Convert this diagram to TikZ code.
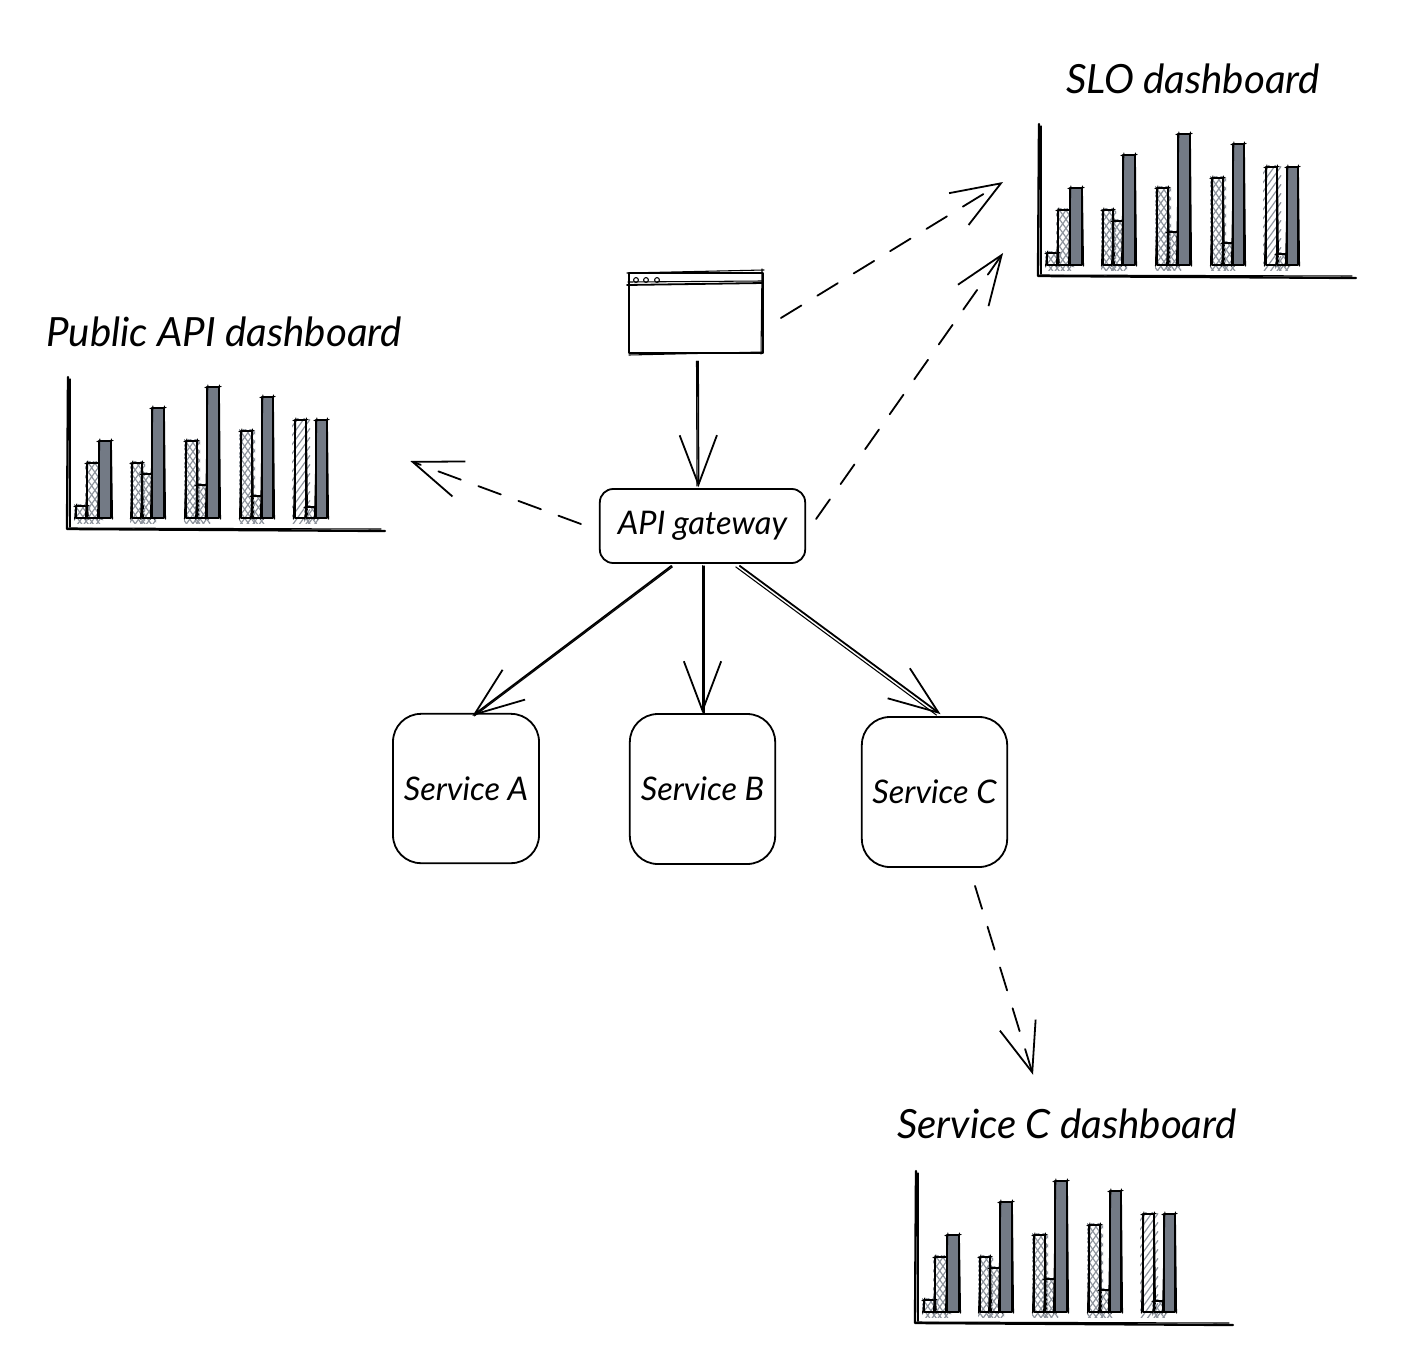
\documentclass[tikz,border=0pt]{standalone}
\usepackage{fontspec}
\setmainfont{Lato}
\usetikzlibrary{arrows.meta,calc}
\definecolor{barfill}{HTML}{737A85}
\definecolor{hatchc}{HTML}{8E949D}
\tikzset{
  ink/.style={draw=black,line width=1.35pt,line cap=round,line join=round},
  bar ink/.style={draw=black,line width=1.75pt,line cap=round,line join=round},
  thin ink/.style={draw=black,line width=0.8pt,line cap=round,line join=round},
  box/.style={ink,rounded corners=#1,inner sep=0pt,align=center},
  box/.default=21pt,
  flow/.style={ink,-{Straight Barb[length=37pt,width=28pt,line width=1.35pt]}},
  twin/.style={thin ink},
  dashflow/.style={flow,dash pattern=on 18pt off 14pt},
  hatchline/.style={draw=hatchc,line width=0.9pt},
  ghost/.style={inner sep=0pt,draw=none},
  title/.style={font=\fontsize{30.2}{36}\selectfont\itshape,inner sep=0pt},
  label/.style={font=\fontsize{24.4}{29}\selectfont\itshape,inner sep=0pt},
}
% outline of a bar, with a second looser stroke
\newcommand{\skrect}[4]{%
  \draw[bar ink] (#1,#4) -- (#1,#2) -- (#3,#2) -- (#3,#4) -- cycle;
  \draw[thin ink] (#1-1.5,#4+1) -- (#1+0.8,#2-2);
  \draw[thin ink] (#1-2,#2+0.5) -- (#3+2,#2-0.5);
  \draw[thin ink] (#3+1.5,#4+1) -- (#3+0.3,#2-2);
}
% cross-hatched bar: steep diagonals, clipped a little outside the bar
\newcommand{\crossbar}[3]{%
  \begin{scope}
    \clip (#1-2,#3-2) rectangle (#2+3,270);
    \pgfmathsetmacro{\rise}{1.4*(#2-#1+8)}
    \pgfmathtruncatemacro{\nn}{(\rise+270-#3)/9}
    \foreach \i in {0,...,\nn}{
      \pgfmathsetmacro{\cc}{#3-5+9*\i-\rise}
      \pgfmathsetmacro{\ce}{\cc+\rise}
      \draw[hatchline] (#1-4,\cc) -- (#2+4,\ce);
      \pgfmathsetmacro{\dd}{#3-1+9*\i}
      \pgfmathsetmacro{\de}{\dd-\rise}
      \draw[hatchline] (#1-4,\dd) -- (#2+4,\de);
    }
  \end{scope}
  \skrect{#1}{#3}{#2}{265}
}
% single-hatched bar
\newcommand{\slashbar}[3]{%
  \begin{scope}
    \clip (#1-3,#3-2) rectangle (#2+5,270);
    \pgfmathsetmacro{\rise}{1.4*(#2-#1+8)}
    \pgfmathtruncatemacro{\nn}{(\rise+270-#3)/9}
    \foreach \i in {0,...,\nn}{
      \pgfmathsetmacro{\dd}{#3-1+9*\i}
      \pgfmathsetmacro{\de}{\dd-\rise}
      \draw[hatchline] (#1-4,\dd) -- (#2+4,\de);
    }
  \end{scope}
  \skrect{#1}{#3}{#2}{265}
}
% solid bar
\newcommand{\darkbar}[3]{%
  \fill[barfill] (#1+1,#3+1) rectangle (#2+0.5,265);
  \skrect{#1}{#3}{#2}{265}
}
\newcommand{\barchart}[2]{%
  \begin{scope}[shift={(#1,#2)}]
    \draw[bar ink] (1039,124) -- (1038,276) -- (1356,278);
    \draw[thin ink] (1041,126) -- (1041,274);
    \draw[thin ink] (1040,275) -- (1352,276);
    \crossbar{1047}{1058}{253}\crossbar{1058}{1071}{210}\darkbar{1070}{1082}{188}
    \crossbar{1103}{1113}{210}\crossbar{1113}{1124}{221}\darkbar{1123}{1135}{155}
    \crossbar{1157}{1168}{188}\crossbar{1168}{1178}{232}\darkbar{1178}{1190}{134}
    \crossbar{1212}{1223}{178}\crossbar{1223}{1233}{243}\darkbar{1233}{1244}{144}
    \slashbar{1266}{1277}{167}\crossbar{1277}{1287}{254}\darkbar{1287}{1298}{167}
  \end{scope}
}
\begin{document}
\begin{tikzpicture}[x=0.75pt,y=-0.75pt]
\useasboundingbox (0,0) rectangle (1420,1370);

% charts
\barchart{0}{0}
\barchart{-971}{253}
\barchart{-123}{1047}
\node[ghost,minimum width=238pt,minimum height=114pt] (sloChart) at (1197,200) {};
\node[ghost,minimum width=237pt,minimum height=114pt] (pubChart) at (226,453) {};
\node[ghost,minimum width=236pt,minimum height=114pt] (svcChart) at (1074,1247) {};

% titles
\node[title] (sloTitle) at (1193,79) {SLO dashboard};
\node[title] (pubTitle) at (224,332) {Public API dashboard};
\node[title] (svcTitle) at (1067,1124) {Service C dashboard};

% browser window
\node[ghost,ink,minimum width=100.5pt,minimum height=60.5pt] (browser) at (696,313) {};
\draw[thin ink] (627,273) -- (764,270);
\draw[thin ink] (762,269) -- (761,354);
\draw[thin ink] (629,355) -- (763,352);
\draw[ink] (627,285) -- (763,283);
\draw[thin ink] (628,282) -- (762,281);
\draw[thin ink] (636,280) circle (2.4);
\draw[thin ink] (646,280) circle (2.4);
\draw[thin ink] (657,280) circle (2.4);

% gateway and services
\node[box=10pt,minimum width=154pt,minimum height=55.5pt,label] (gw) at (702.5,526) {API gateway};
\node[box,minimum width=109.5pt,minimum height=112pt,label] (svcA) at (466,788.5) {Service A};
\node[box,minimum width=109pt,minimum height=112.5pt,label] (svcB) at (702.5,789) {Service B};
\node[box,minimum width=109pt,minimum height=112.5pt,label] (svcC) at (934.5,792) {Service C};

% solid connectors
\draw[flow] ($(browser.south)+(2,7)$) -- ($(gw.north)+(-4,-1)$);
\draw[twin] ($(browser.south)+(0.5,7)$) -- ($(gw.north)+(-5.5,-2)$);
\draw[flow] ($(gw.south west)!0.35!(gw.south east)+(0,2)$) -- ($(svcA.north west)!0.55!(svcA.north east)+(-1,3)$);
\draw[twin] ($(gw.south west)!0.35!(gw.south east)+(1,3)$) -- ($(svcA.north west)!0.55!(svcA.north east)+(1,3)$);
\draw[flow] ($(gw.south)+(0,2)$) -- (svcB.north);
\draw[twin] ($(gw.south)+(1.5,2)$) -- ($(svcB.north)+(1.5,0)$);
\draw[flow] ($(gw.south west)!0.68!(gw.south east)+(0,2)$) -- ($(svcC.north)+(6,-2)$);
\draw[twin] ($(gw.south west)!0.68!(gw.south east)+(-4,3)$) -- ($(svcC.north)+(2,-1)$);

% dashed connectors
\draw[dashflow] ($(browser.east)+(17,5)$) -- ($(sloChart.west)+(-35,-18)$);
\draw[dashflow] ($(gw.east)+(10,-7)$) -- ($(sloChart.west)+(-35,53)$);
\draw[dashflow] ($(gw.west)+(-18,-2)$) -- ($(pubChart.east)+(26,8)$);
\draw[dashflow] ($(svcC.south)+(40.5,18)$) -- ($(svcTitle.north)+(-34,-34)$);
\end{tikzpicture}
\end{document}
